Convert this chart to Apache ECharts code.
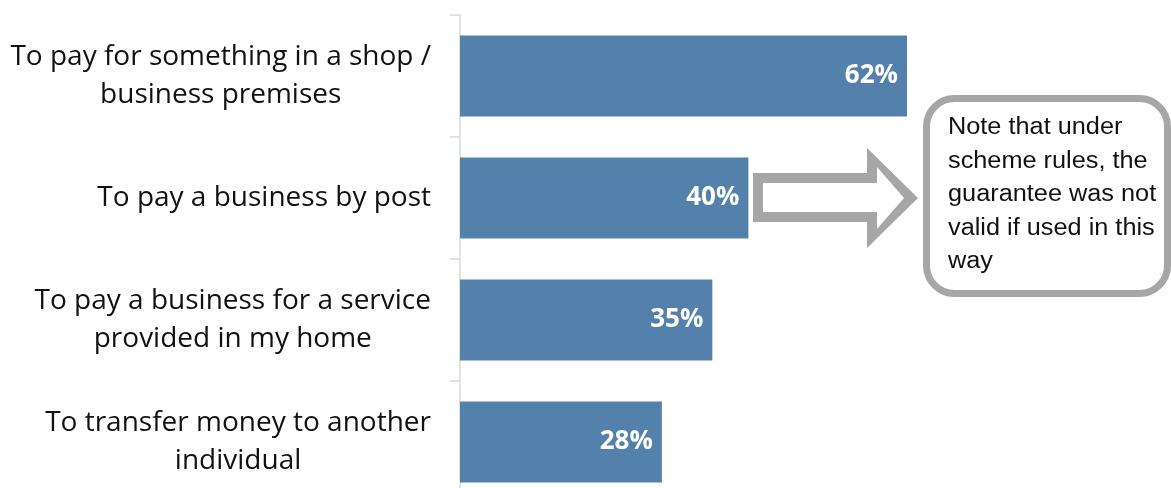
<!DOCTYPE html>
<html>
<head>
<meta charset="utf-8">
<script src="https://cdn.jsdelivr.net/npm/echarts@6/dist/echarts.min.js"></script>
<style>
  html, body { margin: 0; padding: 0; background: #ffffff; overflow: hidden; width: 1171px; height: 488px; }
  /* the plot runs past the visible page edge on the right and bottom */
  #chart { width: 1200px; height: 520px; }
</style>
</head>
<body>
<div id="chart"></div>
<script>
// Ways the card was used (share of respondents, %)
const categories = [
  'To pay for something in a shop /\nbusiness premises',
  'To pay a business by post',
  'To pay a business for a service\nprovided in my home',
  'To transfer money to another\nindividual'
];
const shares = [62, 40, 35, 28];
const noteLines = [
  'Note that under',
  'scheme rules, the',
  'guarantee was not',
  'valid if used in this',
  'way'
];

const BAR = '#5481ac';
const GREY = '#a6a6a6';

const chart = echarts.init(document.getElementById('chart'), null, { renderer: 'canvas' });

chart.setOption({
  backgroundColor: '#ffffff',
  animation: false,
  grid: { left: 460, top: 15, width: 721, height: 488, containLabel: false },
  xAxis: {
    type: 'value',
    min: 0,
    max: 100,
    show: false
  },
  yAxis: {
    type: 'category',
    data: categories,
    inverse: true,
    axisLine: { show: true, lineStyle: { color: '#d9d9d9', width: 1.5 } },
    axisTick: { show: true, length: 10, lineStyle: { color: '#d9d9d9', width: 1.5 } },
    axisLabel: {
      margin: 29,
      color: '#111111',
      fontFamily: 'Open Sans',
      fontSize: 28,
      lineHeight: 38,
      formatter: function (v) {
        return v.split('\n').map(function (l) { return '{c|' + l + '}'; }).join('\n');
      },
      rich: {
        c: { align: 'center', fontFamily: 'Open Sans', fontSize: 28, lineHeight: 38, color: '#111111' }
      }
    },
    splitLine: { show: false }
  },
  series: [{
    type: 'bar',
    data: shares,
    barWidth: 81,
    itemStyle: { color: BAR },
    label: {
      show: true,
      position: 'insideRight',
      distance: 9,
      color: '#ffffff',
      fontFamily: 'Open Sans',
      fontWeight: 'bold',
      fontSize: 26,
      formatter: '{c}%'
    }
  }],
  graphic: [
    {
      // outlined block arrow pointing at the note
      type: 'polygon',
      shape: { points: [[753, 173], [867, 173], [867, 148], [918, 198], [867, 248], [867, 222], [753, 222]] },
      style: { fill: GREY },
      z: 10
    },
    {
      type: 'polygon',
      shape: { points: [[763, 183], [877, 183], [877, 167], [904, 198], [877, 229], [877, 212], [763, 212]] },
      style: { fill: '#ffffff' },
      z: 11
    },
    {
      // rounded note box
      type: 'rect',
      shape: { x: 926.5, y: 98.5, width: 241, height: 195, r: 28 },
      style: { fill: '#ffffff', stroke: GREY, lineWidth: 7 },
      z: 10
    },
    {
      type: 'text',
      x: 948,
      y: 111,
      scaleX: 1.1,
      originX: 0,
      style: {
        text: noteLines.join('\n'),
        font: '23px "Liberation Sans", Arial, sans-serif',
        lineHeight: 33.5,
        fill: '#111111',
        verticalAlign: 'top',
        align: 'left'
      },
      z: 12
    }
  ]
});
</script>
</body>
</html>
